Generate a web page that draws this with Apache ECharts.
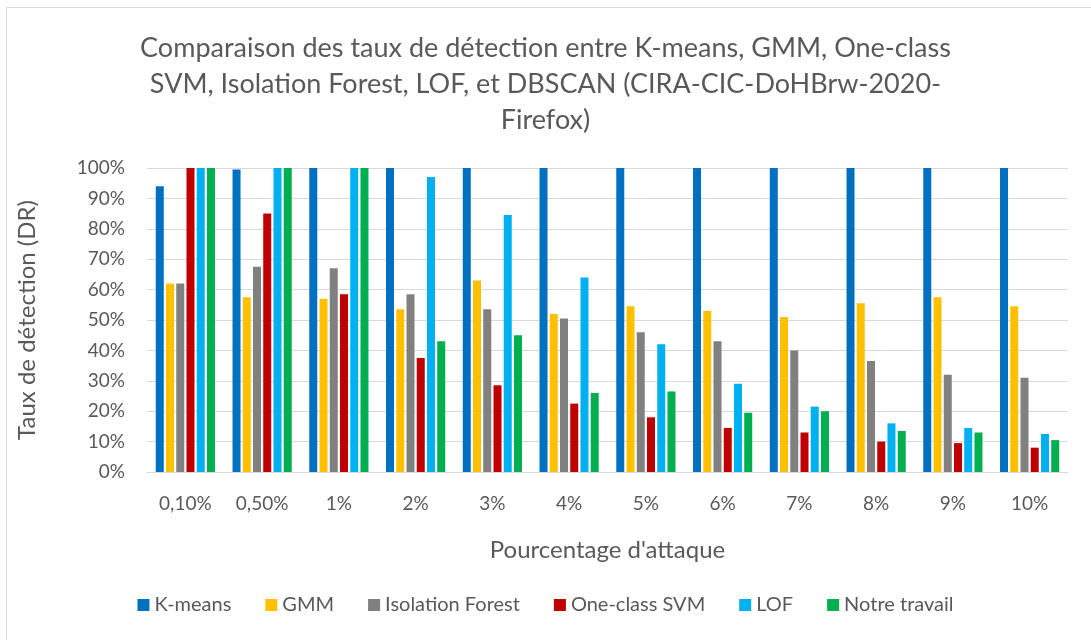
<!DOCTYPE html>
<html>
<head>
<meta charset="utf-8">
<script src="https://cdn.jsdelivr.net/npm/echarts@6/dist/echarts.min.js"></script>
<style>
  html, body { margin: 0; padding: 0; background: #fff; }
  #main { width: 1091px; height: 640px; }
</style>
</head>
<body>
<div id="main"></div>
<script>
  // categories (pourcentage d'attaque)
  var categories = ['0,10%', '0,50%', '1%', '2%', '3%', '4%', '5%', '6%', '7%', '8%', '9%', '10%'];

  // taux de détection (%)
  var kmeans    = [94, 99.5, 100, 100, 100, 100, 100, 100, 100, 100, 100, 100];
  var gmm       = [62, 57.5, 57, 53.5, 63, 52, 54.5, 53, 51, 55.5, 57.5, 54.5];
  var isoForest = [62, 67.5, 67, 58.5, 53.5, 50.5, 46, 43, 40, 36.5, 32, 31];
  var ocsvm     = [100, 85, 58.5, 37.5, 28.5, 22.5, 18, 14.5, 13, 10, 9.5, 8];
  var lof       = [100, 100, 100, 97, 84.5, 64, 42, 29, 21.5, 16, 14.5, 12.5];
  var notre     = [100, 100, 100, 43, 45, 26, 26.5, 19.5, 20, 13.5, 13, 10.5];

  var seriesNames = ['K-means', 'GMM', 'Isolation Forest', 'One-class SVM', 'LOF', 'Notre travail'];
  var seriesData = [kmeans, gmm, isoForest, ocsvm, lof, notre];
  var colors = ['#0070C0', '#FFC000', '#808080', '#C00000', '#00B0F0', '#00B050'];

  var font = 'Lato, "Open Sans", sans-serif';

  var series = [];
  for (var i = 0; i < seriesNames.length; i++) {
    series.push({
      name: seriesNames[i],
      type: 'bar',
      data: seriesData[i],
      barWidth: 8,
      barGap: '28%',
      itemStyle: { color: colors[i] }
    });
  }

  var chart = echarts.init(document.getElementById('main'));
  chart.setOption({
    animation: false,
    color: colors,
    textStyle: { fontFamily: font },
    graphic: [{
      type: 'rect',
      shape: { x: 6.5, y: 7.5, width: 1200, height: 800 },
      style: { fill: 'none', stroke: '#d9d9d9', lineWidth: 1 },
      silent: true
    }],
    title: {
      text: 'Comparaison des taux de détection entre K-means, GMM, One-class\nSVM, Isolation Forest, LOF, et DBSCAN (CIRA-CIC-DoHBrw-2020-\nFirefox)',
      left: 'center',
      top: 25,
      textStyle: {
        fontFamily: font,
        fontSize: 27,
        fontWeight: 'normal',
        color: '#595959',
        lineHeight: 36
      }
    },
    legend: {
      data: seriesNames,
      bottom: 20,
      left: 'center',
      itemWidth: 12,
      itemHeight: 12,
      itemGap: 34,
      icon: 'rect',
      textStyle: { fontFamily: font, fontSize: 20, color: '#595959' }
    },
    grid: {
      left: 147,
      right: 23,
      top: 168,
      bottom: 168
    },
    xAxis: {
      type: 'category',
      data: categories,
      name: "Pourcentage d'attaque",
      nameLocation: 'middle',
      nameGap: 66,
      nameTextStyle: { fontFamily: font, fontSize: 24, color: '#595959' },
      axisLine: { lineStyle: { color: '#d9d9d9' } },
      axisTick: { show: false },
      axisLabel: { margin: 22, fontSize: 19, color: '#595959', fontFamily: font }
    },
    yAxis: {
      type: 'value',
      min: 0,
      max: 100,
      interval: 10,
      name: 'Taux de détection (DR)',
      nameLocation: 'middle',
      nameGap: 108,
      nameTextStyle: { fontFamily: font, fontSize: 24, color: '#595959' },
      axisLine: { show: false },
      axisTick: { show: false },
      axisLabel: {
        margin: 22,
        fontSize: 19,
        color: '#595959',
        fontFamily: font,
        formatter: '{value}%'
      },
      splitLine: { lineStyle: { color: '#d9d9d9', width: 1 } }
    },
    series: series
  });
</script>
</body>
</html>
